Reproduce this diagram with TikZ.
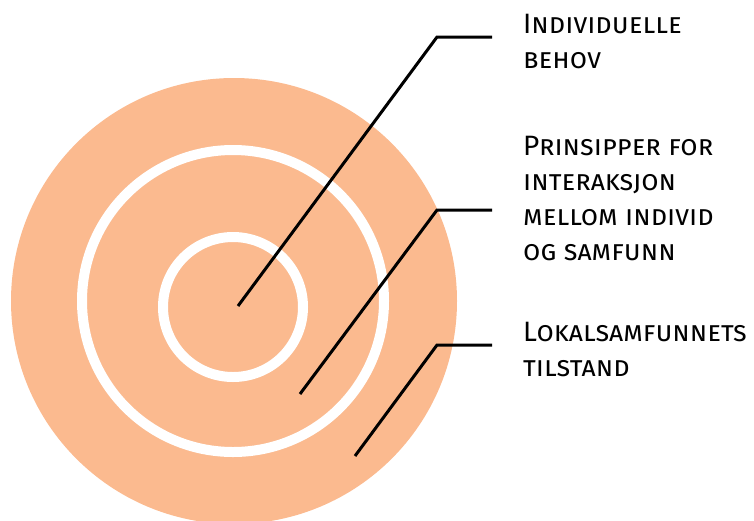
\documentclass[tikz,border=0pt]{standalone}
\usepackage{fontspec}
\setmainfont{Fira Sans}
\definecolor{peach}{RGB}{251,186,143}
\tikzset{
  ring/.style={draw=white,line width=10pt},
  leader/.style={line width=3pt,line join=miter},
  lbl/.style={anchor=base west,inner sep=0pt,align=left,font=\fontsize{28}{35}\selectfont\scshape}
}
\begin{document}
\begin{tikzpicture}[x=1pt,y=-1pt]
\useasboundingbox (0,0) rectangle (754,520);
\clip (0,0) rectangle (754,520);
% circles
\path[fill=peach] (234,301) circle (223);
\draw[ring] (233,301) circle (151);
\draw[ring] (233,307) circle (70);

% labels (base = last line)
\path (523,68) node[lbl] (behov) {Individuelle\\behov};
\path (523,260) node[lbl] (prinsipp) {Prinsipper for\\interaksjon\\mellom individ\\og samfunn};
\path (523,376) node[lbl] (tilstand) {Lokalsamfunnets\\tilstand};

% leader lines
\coordinate (c1) at (238,306);
\coordinate (k1) at (437,37);
\coordinate (e1) at (492,37);
\draw[leader] (c1) -- (k1) -- (e1);

\coordinate (c2) at (300,394);
\coordinate (k2) at (437,210);
\coordinate (e2) at (492,210);
\draw[leader] (c2) -- (k2) -- (e2);

\coordinate (c3) at (355,456);
\coordinate (k3) at (437,345);
\coordinate (e3) at (492,345);
\draw[leader] (c3) -- (k3) -- (e3);
\end{tikzpicture}
\end{document}
